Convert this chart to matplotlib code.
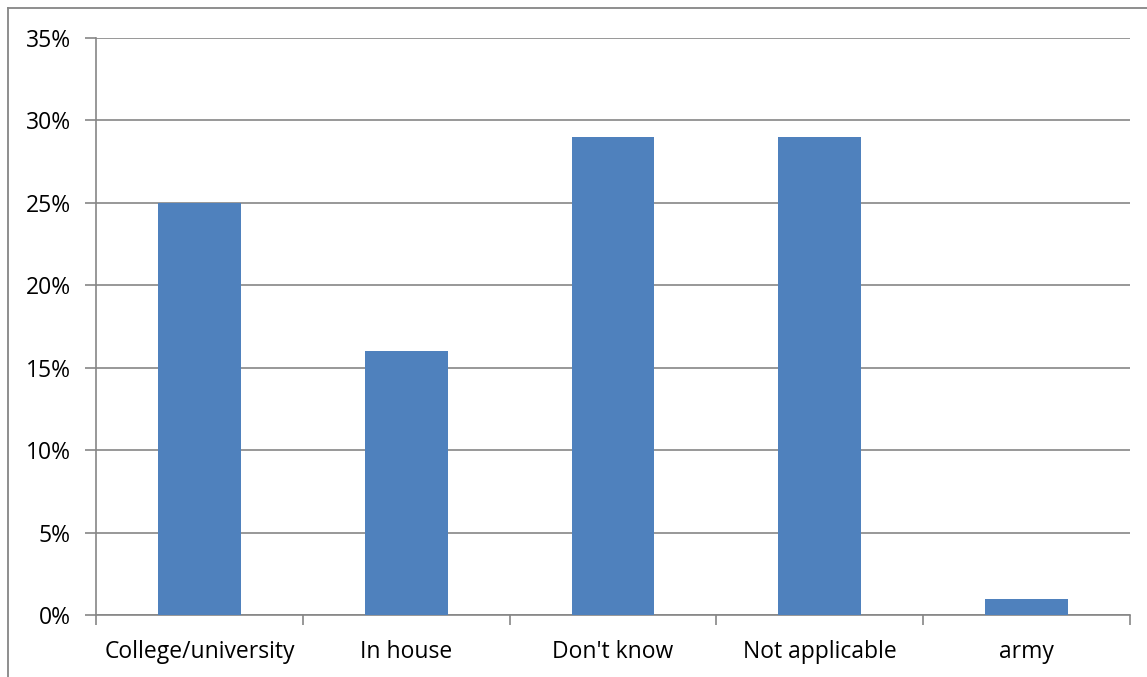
import matplotlib
matplotlib.use("Agg")
import matplotlib.pyplot as plt
from matplotlib.lines import Line2D
from matplotlib.ticker import FuncFormatter, FixedLocator
import numpy as np

# Data
categories = ["College/university", "In house", "Don't know", "Not applicable", "army"]
shares = [0.25, 0.16, 0.29, 0.29, 0.01]

plt.rcParams["font.family"] = ["Open Sans", "DejaVu Sans"]

W, H = 1147, 677
fig = plt.figure(figsize=(W / 100, H / 100), dpi=100)
ax = fig.add_axes([96 / W, (H - 615) / H, (1130 - 96) / W, (615 - 38) / H])

grey = "#868686"
x = np.arange(len(categories))
ax.bar(x, shares, width=0.4, color="#4F81BD", zorder=3)

ax.set_xlim(-0.5, len(categories) - 0.5)
ax.set_ylim(0, 0.35)
ax.set_yticks(np.arange(0, 0.351, 0.05))
ax.yaxis.set_major_formatter(FuncFormatter(lambda v, p: f"{v * 100:.0f}%"))
ax.grid(axis="y", color=grey, linewidth=1.2, zorder=0)

# category labels centred, tick marks on the category boundaries
ax.set_xticks(x)
ax.set_xticklabels(categories)
ax.tick_params(axis="x", which="major", length=0, pad=18, labelsize=16.5)
ax.xaxis.set_minor_locator(FixedLocator(np.arange(-0.5, len(categories), 1.0)))
ax.tick_params(axis="x", which="minor", length=7, width=1.2, color=grey)
ax.tick_params(axis="y", length=8, width=1.2, color=grey, pad=10, labelsize=16.5)

for s in ["top", "right"]:
    ax.spines[s].set_visible(False)
for s in ["left", "bottom"]:
    ax.spines[s].set_color(grey)
    ax.spines[s].set_linewidth(1.2)

# outer chart border (cropped on right and bottom in the reference)
fig.add_artist(Line2D([8 / W, 8 / W], [0, 1 - 8 / H], color=grey, linewidth=1.3))
fig.add_artist(Line2D([8 / W, 1], [1 - 8 / H, 1 - 8 / H], color=grey, linewidth=1.3))

fig.savefig("out.png", dpi=100)
